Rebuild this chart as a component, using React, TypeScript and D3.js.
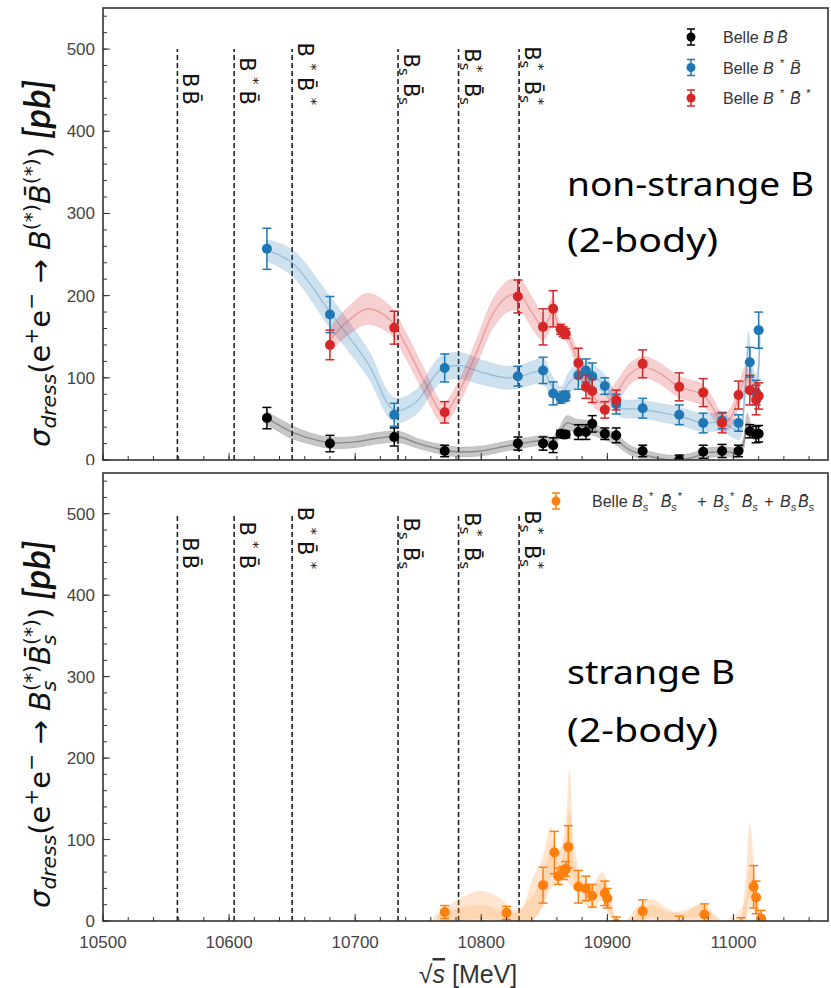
import React from 'react';
import * as d3 from 'd3';

// ---------------- data ----------------
const thresholdE = [10559, 10604, 10650, 10734, 10782, 10830];
type Piece = { t: string; k?: 'sup' | 'sub'; it?: boolean; dx?: number };
const thresholdLabels: Piece[][] = [
  [{ t: 'B' }, { t: 'B\u0304', dx: 0.15 }],
  [{ t: 'B' }, { t: '*', k: 'sup', dx: 0.25 }, { t: 'B\u0304', dx: 0.3 }],
  [{ t: 'B' }, { t: '*', k: 'sup', dx: 0.3 }, { t: 'B\u0304', dx: 0.3 }, { t: '*', k: 'sup', dx: 0.3 }],
  [{ t: 'B' }, { t: 's', k: 'sub' }, { t: 'B\u0304', dx: 0.35 }, { t: 's', k: 'sub' }],
  [{ t: 'B' }, { t: 's', k: 'sub' }, { t: '*', k: 'sup', dx: -0.25 }, { t: 'B\u0304', dx: 0.5 }, { t: 's', k: 'sub' }],
  [{ t: 'B' }, { t: 's', k: 'sub' }, { t: '*', k: 'sup', dx: -0.25 }, { t: 'B\u0304', dx: 0.5 }, { t: 's', k: 'sub' }, { t: '*', k: 'sup', dx: -0.25 }],
];

// Belle BB̄
const bbE = [10630, 10680, 10731, 10771, 10829, 10849, 10857, 10863, 10865, 10867, 10877, 10883, 10888, 10898, 10907, 10928, 10957, 10976, 10991, 11004, 11013, 11018, 11020];
const bbV = [51, 20, 28, 11, 20, 20, 18, 32, 31, 31, 34, 34, 44, 32, 30, 11, 0, 10, 11, 11, 35, 31, 32];
const bbErr = [13, 10, 11, 7, 8, 8, 9, 4, 4, 4, 9, 9, 10, 7, 9, 7, 6, 8, 8, 7, 8, 10, 10];
// Belle B*B̄
const bsbE = [10630, 10680, 10731, 10771, 10829, 10849, 10857, 10863, 10865, 10867, 10877, 10883, 10888, 10898, 10907, 10928, 10957, 10976, 10991, 11004, 11013, 11018, 11020];
const bsbV = [257, 177, 55, 112, 102, 109, 81, 75, 77, 78, 103, 109, 102, 90, 68, 63, 55, 45, 48, 45, 119, 82, 158];
const bsbErr = [25, 22, 14, 17, 12, 16, 14, 6, 6, 6, 17, 14, 16, 10, 12, 12, 12, 12, 10, 10, 18, 15, 22];
// Belle B*B̄*
const bsbsE = [10680, 10731, 10771, 10829, 10849, 10857, 10863, 10865, 10867, 10877, 10883, 10888, 10898, 10907, 10928, 10957, 10976, 10991, 11004, 11013, 11018, 11020];
const bsbsV = [140, 161, 58, 199, 162, 184, 159, 156, 154, 118, 89, 84, 61, 73, 117, 89, 82, 45, 79, 85, 73, 78];
const bsbsErr = [18, 20, 13, 20, 22, 22, 6, 6, 6, 18, 14, 14, 10, 12, 17, 17, 17, 12, 17, 18, 18, 16];
// Belle Bs(*)B̄s(*) sum
const bsE = [10771, 10820, 10849, 10858, 10861, 10865, 10867, 10869, 10877, 10883, 10888, 10898, 10900, 10907, 10928, 10957, 10977, 11006, 11016, 11018, 11022];
const bsV = [11, 10, 44, 84, 55, 59, 64, 91, 42, 40, 31, 34, 28, -3, 12, -5, 8, -10, 42, 29, 3];
const bsErr = [8, 8, 22, 26, 10, 8, 9, 26, 20, 15, 14, 15, 12, 8, 14, 11, 13, 14, 26, 20, 10];

// fit bands (centre, half width)
const bbBandE = [10630, 10650, 10665, 10680, 10700, 10720, 10735, 10750, 10765, 10780, 10800, 10820, 10835, 10850, 10856, 10862, 10868, 10875, 10885, 10895, 10905, 10918, 10935, 10950, 10965, 10980, 10995, 11004, 11008, 11011, 11015, 11020];
const bbBandMid = [51, 34, 26, 21, 22, 27, 28, 20, 14, 10, 11, 17, 21, 24, 22, 33, 45, 42, 40, 33, 27, 12, 4, 0, 2, 9, 10, 9, 20, 45, 34, 32];
const bbBandHw = [8, 8, 7, 7, 7, 7, 7, 6, 6, 6, 6, 6, 6, 6, 6, 7, 9, 8, 8, 7, 7, 6, 6, 6, 6, 6, 6, 6, 8, 12, 8, 7];

const bsbBandE = [10630, 10650, 10680, 10710, 10731, 10748, 10767, 10782, 10800, 10820, 10832, 10840, 10849, 10856, 10863, 10870, 10877, 10885, 10893, 10900, 10910, 10925, 10945, 10960, 10976, 10990, 11000, 11005, 11009, 11012, 11015, 11018, 11021];
const bsbBandMid = [255, 240, 180, 118, 61, 70, 109, 115, 107, 100, 102, 106, 108, 90, 80, 95, 103, 106, 98, 88, 64, 62, 57, 52, 45, 46, 38, 36, 80, 138, 100, 90, 150];
const bsbBandHw = [13, 16, 19, 17, 15, 15, 16, 16, 15, 14, 14, 14, 16, 13, 9, 13, 14, 14, 13, 12, 11, 11, 11, 11, 11, 11, 11, 11, 14, 18, 15, 14, 18];

const bsbsBandE = [10680, 10695, 10710, 10728, 10740, 10755, 10770, 10782, 10796, 10810, 10822, 10831, 10840, 10849, 10853, 10857, 10862, 10868, 10877, 10884, 10891, 10898, 10907, 10918, 10928, 10940, 10957, 10976, 10985, 10991, 10998, 11004, 11010, 11015, 11020];
const bsbsBandMid = [146, 170, 184, 170, 140, 95, 57, 82, 130, 180, 200, 200, 180, 162, 170, 182, 160, 152, 118, 92, 73, 69, 82, 105, 113, 107, 89, 79, 60, 45, 52, 77, 100, 85, 80];
const bsbsBandHw = [15, 17, 19, 17, 16, 15, 13, 14, 16, 18, 19, 19, 19, 17, 17, 17, 9, 9, 13, 13, 11, 11, 13, 13, 13, 13, 13, 13, 12, 11, 12, 13, 15, 13, 13];

// strange-B fit bands (lower, upper), two layers
const bsOuterE = [10762, 10780, 10800, 10815, 10825, 10832, 10840, 10848, 10855, 10860, 10866, 10870, 10874, 10880, 10888, 10896, 10902, 10908, 10915, 10922, 10935, 10948, 10960, 10975, 10985, 10992, 11004, 11009, 11013, 11017, 11021, 11024];
const bsOuterLo = [0, 0, 0, 0, 0, 0, 0, 15, 40, 45, 50, 45, 40, 25, 15, 25, 5, 0, 0, 0, 0, 0, 0, 0, 0, 0, 0, 0, 20, 10, 0, 0];
const bsOuterHi = [5, 25, 37, 28, 14, 15, 50, 75, 115, 80, 110, 188, 90, 55, 45, 60, 35, 0, 0, 15, 27, 15, 10, 22, 8, 0, 0, 40, 120, 60, 10, 0];
const bsInnerE = [10765, 10800, 10825, 10840, 10850, 10856, 10862, 10866, 10870, 10874, 10880, 10888, 10896, 10902, 10908, 10925, 10935, 10950, 10975, 10990, 11008, 11013, 11018, 11022];
const bsInnerLo = [0, 2, 0, 0, 25, 55, 50, 55, 60, 50, 35, 25, 35, 10, 0, 0, 5, 0, 5, 0, 0, 30, 20, 0];
const bsInnerHi = [8, 20, 10, 30, 60, 95, 70, 90, 138, 70, 45, 35, 50, 25, 0, 10, 20, 10, 18, 0, 20, 70, 40, 5];

const xTicks = [10500, 10600, 10700, 10800, 10900, 11000];
const yTicks = [0, 100, 200, 300, 400, 500];

// ---------------- layout ----------------
const W = 831, H = 988;
const X0 = 103, X1 = 828;
const x = d3.scaleLinear().domain([10500, 11075]).range([X0, X1]);
const yT = d3.scaleLinear().domain([0, 550]).range([460, 8]);
const yB = d3.scaleLinear().domain([0, 550]).range([921, 473]);

const BLUE = '#1f77b4', RED = '#d62728', ORANGE = '#ff7f0e', BLACK = '#000000';
const MATH = '"DejaVu Sans", sans-serif';
const SANS = '"Liberation Sans", Arial, sans-serif';

function rich(ps: Piece[], size: number, italic = false) {
  let cur = 0;
  return ps.map((p, i) => {
    const target = p.k === 'sup' ? -0.42 * size : p.k === 'sub' ? 0.22 * size : 0;
    const dy = target - cur;
    cur = target;
    return (
      <tspan key={i} dy={dy !== 0 ? dy : undefined} dx={p.dx ? p.dx * size : undefined}
        fontSize={p.k ? size * 0.7 : size} fontStyle={(p.it ?? italic) ? 'italic' : 'normal'}>{p.t}</tspan>
    );
  });
}

function Band({ es, mid, hw, y, color, op }: any) {
  const pts = es.map((e: number, i: number) => ({ e, m: mid[i], h: hw[i] }));
  const area = d3.area<any>().x(d => x(d.e)).y0(d => y(d.m - d.h)).y1(d => y(d.m + d.h)).curve(d3.curveCatmullRom);
  const line = d3.line<any>().x(d => x(d.e)).y(d => y(d.m)).curve(d3.curveCatmullRom);
  return (
    <g>
      <path d={area(pts) || ''} fill={color} fillOpacity={op} stroke={color} strokeOpacity={0.12} strokeWidth={0.8} />
      <path d={line(pts) || ''} fill="none" stroke={color} strokeOpacity={0.3} strokeWidth={1.4} />
    </g>
  );
}

function LoHiBand({ es, lo, hi, y, color, op }: any) {
  const pts = es.map((e: number, i: number) => ({ e, l: lo[i], h: hi[i] }));
  const area = d3.area<any>().x(d => x(d.e)).y0(d => y(d.l)).y1(d => y(d.h)).curve(d3.curveCatmullRom);
  return <path d={area(pts) || ''} fill={color} fillOpacity={op} />;
}

function Points({ es, vs, errs, y, color }: any) {
  return (
    <g>
      {es.map((e: number, i: number) => {
        const cx = x(e), cy = y(vs[i]), lo = y(vs[i] - errs[i]), hi = y(vs[i] + errs[i]);
        return (
          <g key={i} stroke={color} strokeWidth={1.5}>
            <line x1={cx} x2={cx} y1={lo} y2={hi} />
            <line x1={cx - 4.5} x2={cx + 4.5} y1={lo} y2={lo} />
            <line x1={cx - 4.5} x2={cx + 4.5} y1={hi} y2={hi} />
            <circle cx={cx} cy={cy} r={5} fill={color} stroke="none" />
          </g>
        );
      })}
    </g>
  );
}

function Axes({ y, showX }: any) {
  const yMinor = d3.range(0, 551, 20);
  const xMinor = d3.range(10500, 11075, 20);
  const [yb, yt] = y.range();
  return (
    <g>
      {xMinor.map(v => <line key={'xm' + v} x1={x(v)} x2={x(v)} y1={yb} y2={yb - 4} stroke="#333" strokeWidth={1} />)}
      {xTicks.map(v => <line key={'xM' + v} x1={x(v)} x2={x(v)} y1={yb} y2={yb - 7} stroke="#333" strokeWidth={1} />)}
      {yMinor.map(v => <line key={'ym' + v} x1={X0} x2={X0 + 4} y1={y(v)} y2={y(v)} stroke="#333" strokeWidth={1} />)}
      {yTicks.map(v => <line key={'yM' + v} x1={X0} x2={X0 + 7} y1={y(v)} y2={y(v)} stroke="#333" strokeWidth={1} />)}
      {yTicks.map(v => (
        <text key={'yl' + v} x={X0 - 8} y={y(v) + 6} textAnchor="end" fontFamily={SANS} fontSize={17} fill="#444">{v}</text>
      ))}
      {showX && xTicks.map(v => (
        <text key={'xl' + v} x={x(v)} y={yb + 27} textAnchor="middle" fontFamily={SANS} fontSize={17} fill="#444">{v}</text>
      ))}
      <rect x={X0} y={yt} width={X1 - X0} height={yb - yt} fill="none" stroke="#333" strokeWidth={1.6} />
    </g>
  );
}

function Thresholds({ y }: any) {
  return (
    <g>
      {thresholdE.map((e, i) => (
        <g key={i}>
          <line x1={x(e)} x2={x(e)} y1={y(0)} y2={y(500)} stroke="#222" strokeWidth={1.6} strokeDasharray="5,3" />
          <text transform={`translate(${x(e) + 6},${y(432)}) rotate(90)`} textAnchor="end"
            fontFamily={MATH} fontSize={21} fill="#111">{rich(thresholdLabels[i], 21)}</text>
        </g>
      ))}
    </g>
  );
}

function LegendMarker({ cx, cy, color }: any) {
  return (
    <g stroke={color} strokeWidth={1.5}>
      <line x1={cx} x2={cx} y1={cy - 8} y2={cy + 8} />
      <line x1={cx - 4} x2={cx + 4} y1={cy - 8} y2={cy - 8} />
      <line x1={cx - 4} x2={cx + 4} y1={cy + 8} y2={cy + 8} />
      <circle cx={cx} cy={cy} r={4.5} fill={color} stroke="none" />
    </g>
  );
}

const ylabTop: Piece[] = [
  { t: 'σ', it: true }, { t: 'dress', k: 'sub', it: true }, { t: '(e' }, { t: '+', k: 'sup' }, { t: 'e' }, { t: '−', k: 'sup' },
  { t: ' → ' }, { t: 'B', it: true }, { t: '(*)', k: 'sup' }, { t: 'B\u0304', it: true }, { t: '(*)', k: 'sup' }, { t: ')' },
];
const ylabBot: Piece[] = [
  { t: 'σ', it: true }, { t: 'dress', k: 'sub', it: true }, { t: '(e' }, { t: '+', k: 'sup' }, { t: 'e' }, { t: '−', k: 'sup' },
  { t: ' → ' }, { t: 'B', it: true }, { t: 's', k: 'sub', it: true }, { t: '(*)', k: 'sup', dx: -0.36 }, { t: 'B\u0304', it: true },
  { t: 's', k: 'sub', it: true }, { t: '(*)', k: 'sup', dx: -0.36 }, { t: ')' },
];

const legTop: Piece[][] = [
  [{ t: 'B', it: true }, { t: 'B\u0304', it: true, dx: 0.2 }],
  [{ t: 'B', it: true }, { t: '*', k: 'sup', dx: 0.4 }, { t: 'B\u0304', it: true, dx: 0.35 }],
  [{ t: 'B', it: true }, { t: '*', k: 'sup', dx: 0.4 }, { t: 'B\u0304', it: true, dx: 0.35 }, { t: '*', k: 'sup', dx: 0.35 }],
];
const legBot: Piece[] = [
  { t: 'B', it: true }, { t: 's', k: 'sub', it: true }, { t: '*', k: 'sup', dx: 0.05 }, { t: 'B\u0304', it: true, dx: 0.45 }, { t: 's', k: 'sub', it: true }, { t: '*', k: 'sup', dx: 0.05 },
  { t: '+', dx: 0.95 }, { t: 'B', it: true, dx: 0.4 }, { t: 's', k: 'sub', it: true }, { t: '*', k: 'sup', dx: 0.05 }, { t: 'B\u0304', it: true, dx: 0.45 }, { t: 's', k: 'sub', it: true },
  { t: '+', dx: 0.4 }, { t: 'B', it: true, dx: 0.4 }, { t: 's', k: 'sub', it: true }, { t: 'B\u0304', it: true, dx: 0.1 }, { t: 's', k: 'sub', it: true },
];

function YLabel({ ps, px, py }: any) {
  return (
    <text transform={`translate(${px},${py}) rotate(-90)`} fontFamily={MATH} fill="#111">
      {rich(ps, 29)}
      <tspan dy={0} fontFamily="Lato, sans-serif" fontStyle="italic" fontWeight={600} fontSize={37} dx={8}>[pb]</tspan>
    </text>
  );
}

export default function App() {
  return (
    <svg width={W} height={H} style={{ position: 'absolute', left: 0, top: 0, background: '#fff' }}>
      <defs>
        <clipPath id="cT"><rect x={X0} y={8} width={X1 - X0} height={452} /></clipPath>
        <clipPath id="cB"><rect x={X0} y={473} width={X1 - X0} height={448} /></clipPath>
        <clipPath id="cTop"><rect x={0} y={0} width={W} height={465} /></clipPath>
      </defs>
      <rect x={0} y={0} width={W} height={H} fill="#fff" />

      {/* ---------- top panel ---------- */}
      <g clipPath="url(#cTop)">
        <Thresholds y={yT} />
        <g clipPath="url(#cT)">
          <Band es={bbBandE} mid={bbBandMid} hw={bbBandHw} y={yT} color="#000" op={0.22} />
          <Band es={bsbBandE} mid={bsbBandMid} hw={bsbBandHw} y={yT} color={BLUE} op={0.22} />
          <Band es={bsbsBandE} mid={bsbsBandMid} hw={bsbsBandHw} y={yT} color={RED} op={0.22} />
          <Points es={bbE} vs={bbV} errs={bbErr} y={yT} color={BLACK} />
          <Points es={bsbE} vs={bsbV} errs={bsbErr} y={yT} color={BLUE} />
          <Points es={bsbsE} vs={bsbsV} errs={bsbsErr} y={yT} color={RED} />
        </g>
        <Axes y={yT} showX={false} />
        <YLabel ps={ylabTop} px={50} py={447} />
        {[BLACK, BLUE, RED].map((c, i) => (
          <g key={i}>
            <LegendMarker cx={691} cy={37 + i * 30.5} color={c} />
            <text x={723} y={43 + i * 30.5} fontFamily={SANS} fontSize={16} fill="#333">Belle {rich(legTop[i], 16)}</text>
          </g>
        ))}
        <text x={567} y={196} fontFamily='"Noto Sans", sans-serif' fontSize={32} textLength={247} lengthAdjust="spacingAndGlyphs" fill="#000">non-strange B</text>
        <text x={567} y={252} fontFamily='"Noto Sans", sans-serif' fontSize={32} textLength={151} lengthAdjust="spacingAndGlyphs" fill="#000">(2-body)</text>
      </g>

      {/* ---------- bottom panel ---------- */}
      <g>
        <Thresholds y={yB} />
        <g clipPath="url(#cB)">
          <LoHiBand es={bsOuterE} lo={bsOuterLo} hi={bsOuterHi} y={yB} color={ORANGE} op={0.2} />
          <LoHiBand es={bsInnerE} lo={bsInnerLo} hi={bsInnerHi} y={yB} color={ORANGE} op={0.15} />
          <Points es={bsE} vs={bsV} errs={bsErr} y={yB} color={ORANGE} />
        </g>
        <Axes y={yB} showX={true} />
        <YLabel ps={ylabBot} px={50} py={908} />
        <LegendMarker cx={556} cy={501} color={ORANGE} />
        <text x={592} y={507} fontFamily={SANS} fontSize={16} fill="#333">Belle {rich(legBot, 16)}</text>
        <text x={567} y={684} fontFamily='"Noto Sans", sans-serif' fontSize={32} textLength={168} lengthAdjust="spacingAndGlyphs" fill="#000">strange B</text>
        <text x={567} y={742} fontFamily='"Noto Sans", sans-serif' fontSize={32} textLength={151} lengthAdjust="spacingAndGlyphs" fill="#000">(2-body)</text>
        <text x={468} y={983} textAnchor="middle" fontFamily={SANS} fontSize={25} fill="#333">
          <tspan>√</tspan><tspan fontStyle="italic" textDecoration="overline">s</tspan><tspan> [MeV]</tspan>
        </text>
      </g>
    </svg>
  );
}
